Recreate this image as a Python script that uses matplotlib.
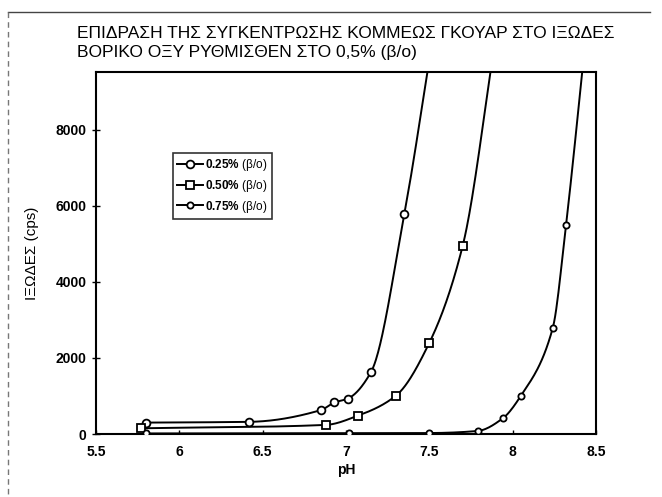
import numpy as np
import matplotlib
matplotlib.use("Agg")
import matplotlib.pyplot as plt
from matplotlib.lines import Line2D

# ---- data ----
ph_025 = [5.80, 6.42, 6.85, 6.93, 7.01, 7.15, 7.35, 7.52]
visc_025 = [300, 320, 630, 830, 930, 1630, 5790, 10400]

ph_050 = [5.77, 6.88, 7.07, 7.30, 7.50, 7.70, 7.90]
visc_050 = [150, 240, 480, 1010, 2400, 4950, 10500]

ph_075 = [5.80, 7.02, 7.50, 7.79, 7.94, 8.05, 8.24, 8.32, 8.44]
visc_075 = [15, 20, 25, 80, 410, 1010, 2780, 5500, 10500]

series_labels = [r"$\mathbf{0.25\%}$ (β/o)", r"$\mathbf{0.50\%}$ (β/o)", r"$\mathbf{0.75\%}$ (β/o)"]
x_ticks = [5.5, 6.0, 6.5, 7.0, 7.5, 8.0, 8.5]
x_tick_labels = ["5.5", "6", "6.5", "7", "7.5", "8", "8.5"]
y_ticks = [0, 2000, 4000, 6000, 8000]
title_lines = ["ΕΠΙΔΡΑΣΗ ΤΗΣ ΣΥΓΚΕΝΤΡΩΣΗΣ ΚΟΜΜΕΩΣ ΓΚΟΥΑΡ ΣΤΟ ΙΞΩΔΕΣ",
               "ΒΟΡΙΚΟ ΟΞΥ ΡΥΘΜΙΣΘΕΝ ΣΤΟ 0,5% (β/ο)"]
y_label = "ΙΞΩΔΕΣ (cps)"
x_label = "pH"

plt.rcParams['font.family'] = ['Liberation Sans', 'DejaVu Sans']
plt.rcParams['mathtext.fontset'] = 'custom'
plt.rcParams['mathtext.rm'] = 'Liberation Sans'
plt.rcParams['mathtext.bf'] = 'Liberation Sans:bold'


def pchip_curve(x, y, num=400):
    x = np.asarray(x, float)
    y = np.asarray(y, float)
    h = np.diff(x)
    d = np.diff(y) / h
    n = len(x)
    m = np.zeros(n)
    m[0] = d[0]
    m[-1] = d[-1]
    for k in range(1, n - 1):
        if d[k - 1] * d[k] <= 0:
            m[k] = 0.0
        else:
            w1 = 2 * h[k] + h[k - 1]
            w2 = h[k] + 2 * h[k - 1]
            m[k] = (w1 + w2) / (w1 / d[k - 1] + w2 / d[k])
    xs = np.linspace(x[0], x[-1], num)
    idx = np.clip(np.searchsorted(x, xs) - 1, 0, n - 2)
    t = (xs - x[idx]) / h[idx]
    h00 = 2 * t**3 - 3 * t**2 + 1
    h10 = t**3 - 2 * t**2 + t
    h01 = -2 * t**3 + 3 * t**2
    h11 = t**3 - t**2
    ys = h00 * y[idx] + h10 * h[idx] * m[idx] + h01 * y[idx + 1] + h11 * h[idx] * m[idx + 1]
    return xs, ys


fig = plt.figure(figsize=(6.62, 4.97), dpi=100)
ax = fig.add_axes([96 / 662, 1 - 434 / 497, 500 / 662, 362 / 497])

series = [(ph_025, visc_025, 'o', 5.6), (ph_050, visc_050, 's', 6.2), (ph_075, visc_075, 'o', 4.5)]
handles = []
for (px, vy, mk, ms), lab in zip(series, series_labels):
    xs, ys = pchip_curve(px, vy)
    ax.plot(xs, ys, color='black', lw=1.4, zorder=2)
    ax.plot(px, vy, linestyle='none', marker=mk, ms=ms, mfc='white', mec='black', mew=1.3, zorder=3)
    handles.append(Line2D([], [], color='black', lw=1.4, marker=mk, ms=ms, mfc='white', mec='black', mew=1.3, label=lab))

ax.set_xlim(5.5, 8.5)
ax.set_ylim(0, 9526)
ax.set_xticks(x_ticks)
ax.set_xticklabels(x_tick_labels)
ax.set_yticks(y_ticks)
for spine in ax.spines.values():
    spine.set_linewidth(1.5)
ax.tick_params(axis='x', direction='in', length=3, width=1, pad=8, labelsize=10)
ax.tick_params(axis='y', direction='inout', length=6, width=1, pad=4, labelsize=10)
for lbl in ax.get_xticklabels() + ax.get_yticklabels():
    lbl.set_fontweight('bold')

ax.set_xlabel(x_label, fontsize=10, fontweight='bold', labelpad=3)
ax.set_ylabel(y_label, fontsize=11, labelpad=12)

leg = ax.legend(handles=handles, loc='upper left', bbox_to_anchor=(173 / 662, 1 - 153 / 497),
                bbox_transform=fig.transFigure, borderaxespad=0, frameon=True, fancybox=False,
                edgecolor='black', fontsize=8.5, handlelength=2.2, handletextpad=0.2,
                labelspacing=0.4, borderpad=0.35)
leg.get_frame().set_linewidth(1.2)

fig.text(77 / 662, 1 - 33 / 497, title_lines[0], fontsize=12.5, va='center', ha='left')
fig.text(77 / 662, 1 - 52 / 497, title_lines[1], fontsize=12.5, va='center', ha='left')

# scanned page border
fig.add_artist(Line2D([8 / 662, 650 / 662], [1 - 12 / 497, 1 - 12 / 497], transform=fig.transFigure,
                      color='#444444', lw=1))
fig.add_artist(Line2D([8 / 662, 8 / 662], [1 - 12 / 497, 0], transform=fig.transFigure,
                      color='#777777', lw=1, linestyle=(0, (4, 3))))

fig.savefig('out.png', dpi=100)
